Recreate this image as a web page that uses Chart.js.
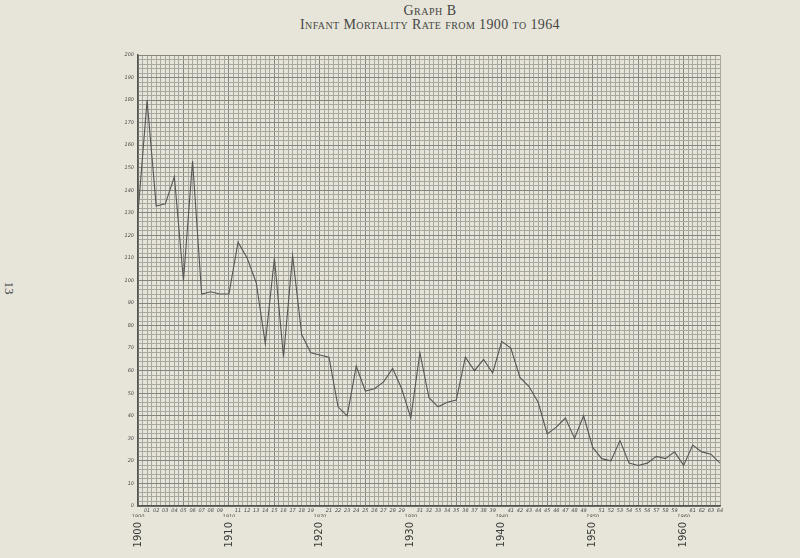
<!DOCTYPE html>
<html lang="en">
<head>
    <meta charset="UTF-8">
    <title>Graph B - Infant Mortality Rate</title>
    <script src="https://cdn.jsdelivr.net/npm/chart.js"></script>
    <style>
    body { margin: 0; background: #e7e5da; width: 800px; height: 558px; overflow: hidden; position: relative; }
    .title { position: absolute; left: 0; width: 860px; text-align: center; font-family: "Liberation Serif", "DejaVu Serif", serif; color: #454543; font-variant: small-caps; }
    #t1 { top: 3px; font-size: 14px; letter-spacing: 0.5px; }
    #t2 { top: 17px; font-size: 14px; letter-spacing: 0.4px; }
    #page { position: absolute; left: 2px; top: 280px; font-family: "Liberation Serif", serif; font-size: 13px; color: #444; transform: rotate(90deg); }
    #wrap { position: absolute; left: 0; top: 0; width: 800px; height: 558px; }
    </style>
</head>
<body>
    <div class="title" id="t1">Graph B</div>
    <div class="title" id="t2">Infant Mortality Rate from 1900 to 1964</div>
    <div id="page">13</div>
    <div id="wrap"><canvas id="chartB"></canvas></div>

    <script>
        // years and rate (per 1,000 live births)
        const years = [1900, 1901, 1902, 1903, 1904, 1905, 1906, 1907, 1908, 1909,
                       1910, 1911, 1912, 1913, 1914, 1915, 1916, 1917, 1918, 1919,
                       1920, 1921, 1922, 1923, 1924, 1925, 1926, 1927, 1928, 1929,
                       1930, 1931, 1932, 1933, 1934, 1935, 1936, 1937, 1938, 1939,
                       1940, 1941, 1942, 1943, 1944, 1945, 1946, 1947, 1948, 1949,
                       1950, 1951, 1952, 1953, 1954, 1955, 1956, 1957, 1958, 1959,
                       1960, 1961, 1962, 1963, 1964];
        const rate = [130, 180, 133, 134, 146, 100, 153, 94, 95, 94,
                      94, 117, 110, 99, 72, 110, 66, 111, 76, 68,
                      67, 66, 44, 40, 62, 51, 52, 55, 61, 52,
                      39, 68, 48, 44, 46, 47, 66, 60, 65, 59,
                      73, 70, 57, 53, 46, 32, 35, 39, 30, 40,
                      26, 21, 20, 29, 19, 18, 19, 22, 21, 24,
                      18, 27, 24, 23, 19];
        const decadeLabels = [1900, 1910, 1920, 1930, 1940, 1950, 1960];
        const yLabels = [0, 10, 20, 30, 40, 50, 60, 70, 80, 90, 100,
                         110, 120, 130, 140, 150, 160, 170, 180, 190, 200];

        const points = years.map((y, i) => ({ x: y, y: rate[i] }));
        const ink = '#4a4a48';
        const minor = '#a8a8a0';
        const major = '#85857f';

        new Chart(document.getElementById('chartB'), {
            type: 'line',
            data: {
                datasets: [{
                    label: 'Infant mortality rate',
                    data: points,
                    borderColor: '#565654',
                    borderWidth: 1.1,
                    pointRadius: 0,
                    tension: 0,
                    fill: false
                }]
            },
            options: {
                responsive: true,
                maintainAspectRatio: false,
                animation: false,
                layout: { padding: { left: 110, right: 80, top: 55, bottom: 3 } },
                plugins: { legend: { display: false }, tooltip: { enabled: false } },
                scales: {
                    x: {
                        type: 'linear',
                        min: 1900, max: 1964,
                        afterFit: s => { s.height = 11; },
                        afterBuildTicks: s => {
                            const t = [];
                            for (let v = 1900; v <= 1964; v += 0.5) t.push({ value: v });
                            s.ticks = t;
                        },
                        ticks: {
                            autoSkip: false, maxRotation: 0, minRotation: 0,
                            padding: 1,
                            color: ink,
                            font: { size: 5, style: 'italic', family: 'DejaVu Sans', lineHeight: 1.3 },
                            callback: v => {
                                if (v % 1 !== 0) return '';
                                if (v % 10 === 0) return ['', String(v)];
                                return String(v % 100).padStart(2, '0');
                            }
                        },
                        grid: {
                            drawTicks: false,
                            color: c => (c.tick && c.tick.value % 5 === 0) ? major : minor,
                            lineWidth: 1
                        },
                        border: { display: true, color: '#55554f', width: 1.5 }
                    },
                    x2: {
                        type: 'linear',
                        position: 'bottom',
                        min: 1900, max: 1964,
                        afterFit: s => { s.height = 38; },
                        afterBuildTicks: s => { s.ticks = decadeLabels.map(v => ({ value: v })); },
                        ticks: {
                            autoSkip: false, minRotation: 90, maxRotation: 90,
                            padding: 5,
                            color: '#3c3c3a',
                            font: { size: 10, family: 'DejaVu Sans' },
                            callback: v => String(v)
                        },
                        grid: { display: false, drawTicks: false },
                        border: { display: false }
                    },
                    y: {
                        min: 0, max: 200,
                        afterFit: s => { s.width = 28; },
                        afterBuildTicks: s => {
                            const t = [];
                            for (let v = 0; v <= 200; v += 2) t.push({ value: v });
                            s.ticks = t;
                        },
                        ticks: {
                            autoSkip: false,
                            padding: 4,
                            color: ink,
                            font: { size: 5, style: 'italic', family: 'DejaVu Sans' },
                            callback: v => yLabels.includes(v) ? String(v) : ''
                        },
                        grid: {
                            drawTicks: false,
                            color: c => (c.tick && c.tick.value % 10 === 0) ? major : minor,
                            lineWidth: 1
                        },
                        border: { display: true, color: '#55554f', width: 1.5 }
                    }
                }
            }
        });
    </script>
</body>
</html>
